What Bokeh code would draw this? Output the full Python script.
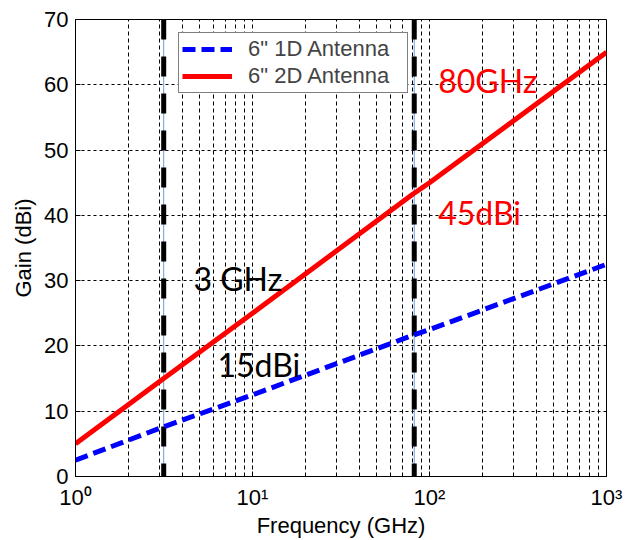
from bokeh.plotting import figure
from bokeh.models import Range1d, FixedTicker, Label, Legend, LegendItem
from bokeh.embed import file_html
from bokeh.resources import INLINE

# ---- data ----
freq = [1, 3, 10, 80, 100, 1000]                 # GHz
gain_1d = [2.5, 7.4, 12.5, 21.6, 22.5, 32.5]     # dBi, 6" 1D antenna
gain_2d = [5.0, 14.6, 25.0, 43.2, 45.0, 65.0]    # dBi, 6" 2D antenna
marker_freqs = [3.15, 82]                        # vertical reference lines (GHz)
x_major = [1, 10, 100, 1000]
x_minor = [2, 3, 4, 5, 6, 7, 8, 9, 20, 30, 40, 50, 60, 70, 80, 90,
           200, 300, 400, 500, 600, 700, 800, 900]
x_labels = {1: "10\u2070", 10: "10\u00b9", 100: "10\u00b2", 1000: "10\u00b3"}
y_ticks = [0, 10, 20, 30, 40, 50, 60, 70]

FONT = "Liberation Sans"
ANN_FONT = "Lato"

p = figure(width=625, height=540, x_axis_type="log",
           x_range=Range1d(1, 1000), y_range=Range1d(0, 70),
           output_backend="svg", toolbar_location=None,
           min_border_left=75, min_border_right=19,
           min_border_top=19, min_border_bottom=64)
p.background_fill_color = "white"
p.border_fill_color = "white"
p.outline_line_color = "black"
p.outline_line_width = 1

# axes
p.xaxis.ticker = FixedTicker(ticks=x_major, minor_ticks=x_minor)
p.xaxis.major_label_overrides = x_labels
p.yaxis.ticker = FixedTicker(ticks=y_ticks)
for ax in (p.xaxis[0], p.yaxis[0]):
    ax.axis_line_color = "black"
    ax.major_tick_line_color = "black"
    ax.minor_tick_line_color = "black"
    ax.major_tick_in = 5
    ax.major_tick_out = 0
    ax.minor_tick_in = 3
    ax.minor_tick_out = 0
    ax.major_label_text_font = FONT
    ax.major_label_text_font_size = "22px"
    ax.major_label_text_color = "black"
    ax.axis_label_text_font = FONT
    ax.axis_label_text_font_size = "22px"
    ax.axis_label_text_font_style = "normal"
    ax.axis_label_text_color = "black"
p.yaxis.minor_tick_line_color = None
p.xaxis.major_label_standoff = 8
p.yaxis.major_label_standoff = 7
p.yaxis.axis_label = "Gain (dBi)"
p.yaxis.axis_label_standoff = 5
p.xaxis.axis_label = "Frequency (GHz)"
p.xaxis.axis_label_standoff = 0

# grid
p.xgrid.ticker = FixedTicker(ticks=x_major, minor_ticks=x_minor)
p.xgrid.grid_line_color = "black"
p.xgrid.grid_line_dash = "4 3"
p.xgrid.minor_grid_line_color = "black"
p.xgrid.minor_grid_line_dash = "4 3"
p.ygrid.ticker = FixedTicker(ticks=y_ticks)
p.ygrid.grid_line_color = "black"
p.ygrid.grid_line_dash = "3 3"

# vertical reference lines
y_lo = [y_ticks[0]] * len(marker_freqs)
y_hi = [y_ticks[-1]] * len(marker_freqs)
p.segment(x0=marker_freqs, y0=y_lo, x1=marker_freqs, y1=y_hi,
          line_color="#6a9be0", line_width=1)
p.segment(x0=marker_freqs, y0=y_lo, x1=marker_freqs, y1=y_hi,
          line_color="black", line_width=5, line_dash="20 17",
          line_dash_offset=7)

# curves
r2 = p.line(freq, gain_2d, line_color="#ff0000", line_width=5)
r1 = p.line(freq, gain_1d, line_color="#0000ff", line_width=5,
            line_dash="13 6")

legend = Legend(items=[LegendItem(label='6" 1D Antenna', renderers=[r1]),
                       LegendItem(label='6" 2D Antenna', renderers=[r2])],
                location=(103, 383))
legend.label_text_font = FONT
legend.label_text_font_size = "22px"
legend.glyph_width = 50
legend.glyph_height = 20
legend.label_height = 20
legend.label_width = 156
legend.label_standoff = 16
legend.padding = 3
legend.spacing = 1
legend.margin = 0
legend.border_line_color = "black"
legend.border_line_width = 1
legend.background_fill_color = "white"
legend.background_fill_alpha = 1
p.add_layout(legend)

# annotations
def ann(x, y, text, color):
    p.add_layout(Label(x=x, y=y, text=text, text_color=color,
                       text_font=ANN_FONT, text_font_size="32px",
                       text_baseline="alphabetic", text_align="left"))

ann(112, 60.6, "80GHz", "#ff0000")
ann(112, 40.4, "45dBi", "#ff0000")
ann(4.64, 30.4, "3 GHz", "black")
ann(6.34, 17.1, "15dBi", "black")

open("out.html", "w").write(file_html(p, INLINE))
